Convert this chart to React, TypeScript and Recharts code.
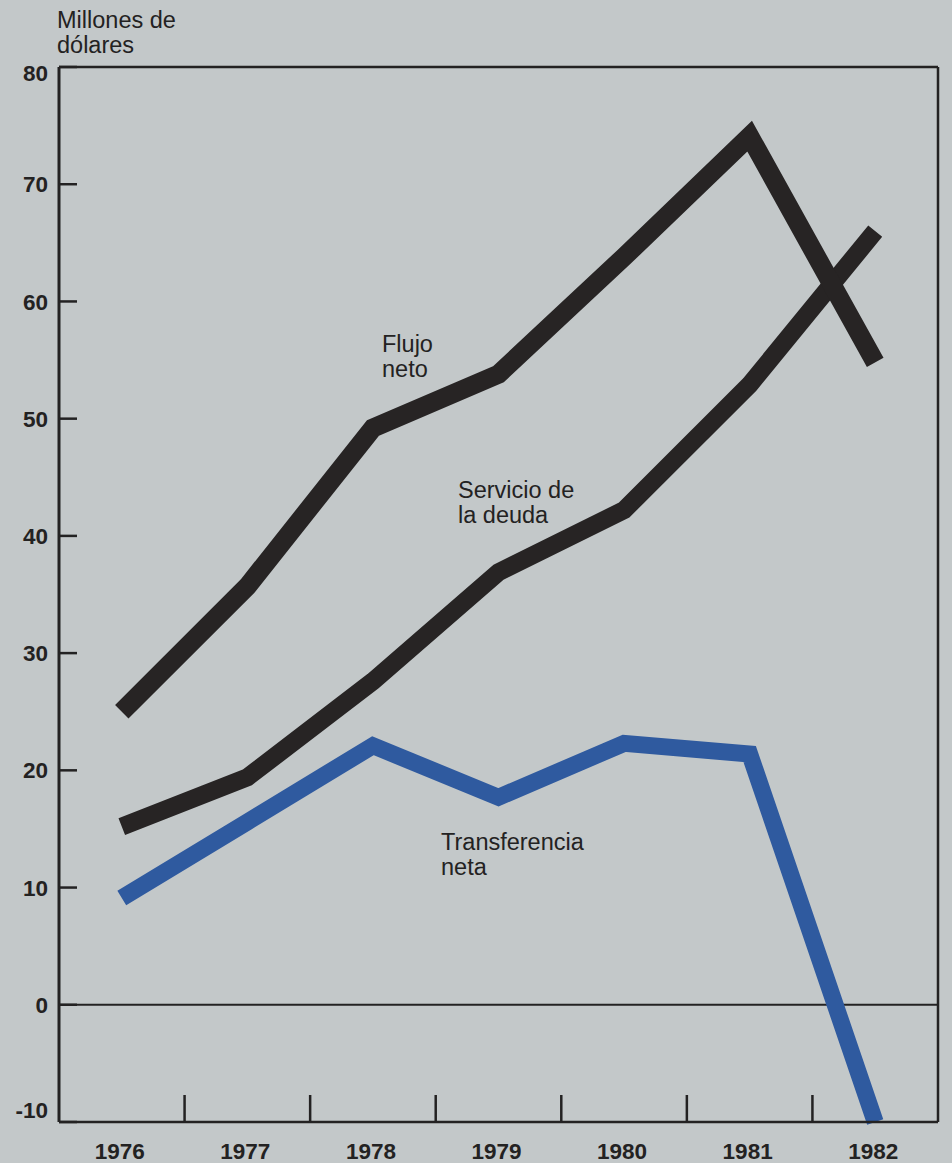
import { LineChart, Line, XAxis, YAxis, ReferenceLine } from 'recharts';

const years = [1976, 1977, 1978, 1979, 1980, 1981, 1982];
const flujoNeto = [25, 35.7, 49.2, 53.8, 63.8, 74.1, 54.8];
const servicioDeuda = [15.2, 19.4, 27.6, 36.9, 42.2, 52.9, 66];
const transferenciaNeta = [9.1, 15.6, 22.1, 17.7, 22.3, 21.4, -10];

const yTicks = [-10, 0, 10, 20, 30, 40, 50, 60, 70, 80];
// year labels plus the small marks between years
const xTicks = [1976, 1976.5, 1977, 1977.5, 1978, 1978.5, 1979, 1979.5, 1980, 1980.5, 1981, 1981.5, 1982];

const data = years.map((year, i) => ({
  year,
  flujo: flujoNeto[i],
  servicio: servicioDeuda[i],
  transferencia: transferenciaNeta[i],
}));

const INK = '#232222';
const FONT = '"Liberation Sans", Arial, Helvetica, sans-serif';

function YearTick({ x, y, payload }: any) {
  const v = payload.value;
  if (Number.isInteger(v)) {
    return (
      <text x={x - 2} y={y + 37} textAnchor="middle" fontFamily={FONT} fontWeight="bold" fontSize={22.5} fill={INK}>
        {v}
      </text>
    );
  }
  return <line x1={x} x2={x} y1={y} y2={y - 27} stroke={INK} strokeWidth={2.5} />;
}

function LeftTick({ x, y, payload }: any) {
  const v = payload.value;
  const shift = v === 80 ? 6 : v === -10 ? -12 : 0;
  return (
    <g>
      <text x={x} y={y + shift} dy="0.36em" textAnchor="end" fontFamily={FONT} fontWeight="bold" fontSize={22.5} fill={INK}>
        {v}
      </text>
      <line x1={x + 11} x2={x + 29} y1={y} y2={y} stroke={INK} strokeWidth={2.5} />
    </g>
  );
}

function RightTick({ x, y }: any) {
  return <line x1={x - 16} x2={x} y1={y} y2={y} stroke={INK} strokeWidth={2.5} />;
}

const note: React.CSSProperties = {
  position: 'absolute',
  fontFamily: FONT,
  fontSize: 23.5,
  lineHeight: '25px',
  color: INK,
};

export default function App() {
  return (
    <div style={{ position: 'absolute', left: 0, top: 0, width: 952, height: 1163, background: '#c3c8c9', overflow: 'hidden' }}>
      <LineChart width={952} height={1163} data={data} margin={{ top: 67, right: 0, bottom: 0, left: 0 }}>
        <XAxis
          dataKey="year"
          type="number"
          domain={[1975.5, 1982.5]}
          ticks={xTicks}
          interval={0}
          height={41}
          tickSize={0}
          tickMargin={0}
          tickLine={false}
          axisLine={{ stroke: INK, strokeWidth: 2.5 }}
          tick={<YearTick />}
        />
        <YAxis
          domain={[-10, 80]}
          ticks={yTicks}
          interval={0}
          width={59}
          tickSize={0}
          tickMargin={11}
          tickLine={false}
          axisLine={{ stroke: INK, strokeWidth: 3 }}
          tick={<LeftTick />}
        />
        <YAxis
          yAxisId="r"
          orientation="right"
          domain={[-10, 80]}
          ticks={yTicks}
          interval={0}
          width={14}
          tickSize={0}
          tickMargin={0}
          tickLine={false}
          axisLine={{ stroke: INK, strokeWidth: 2.5 }}
          tick={<RightTick />}
        />
        <ReferenceLine y={80} stroke={INK} strokeWidth={2.5} />
        <ReferenceLine y={0} stroke={INK} strokeWidth={2} />
        <Line
          dataKey="transferencia"
          type="linear"
          stroke="#2f5a9f"
          strokeWidth={17}
          strokeLinecap="butt"
          strokeLinejoin="miter"
          dot={false}
          activeDot={false}
          isAnimationActive={false}
        />
        <Line
          dataKey="servicio"
          type="linear"
          stroke="#272424"
          strokeWidth={18}
          strokeLinecap="butt"
          strokeLinejoin="miter"
          dot={false}
          activeDot={false}
          isAnimationActive={false}
        />
        <Line
          dataKey="flujo"
          type="linear"
          stroke="#272424"
          strokeWidth={19}
          strokeLinecap="butt"
          strokeLinejoin="miter"
          dot={false}
          activeDot={false}
          isAnimationActive={false}
        />
      </LineChart>
      <div style={{ ...note, left: 57, top: 8 }}>Millones de<br />dólares</div>
      <div style={{ ...note, left: 382, top: 332 }}>Flujo<br />neto</div>
      <div style={{ ...note, left: 458, top: 478 }}>Servicio de<br />la deuda</div>
      <div style={{ ...note, left: 441, top: 830 }}>Transferencia<br />neta</div>
    </div>
  );
}
